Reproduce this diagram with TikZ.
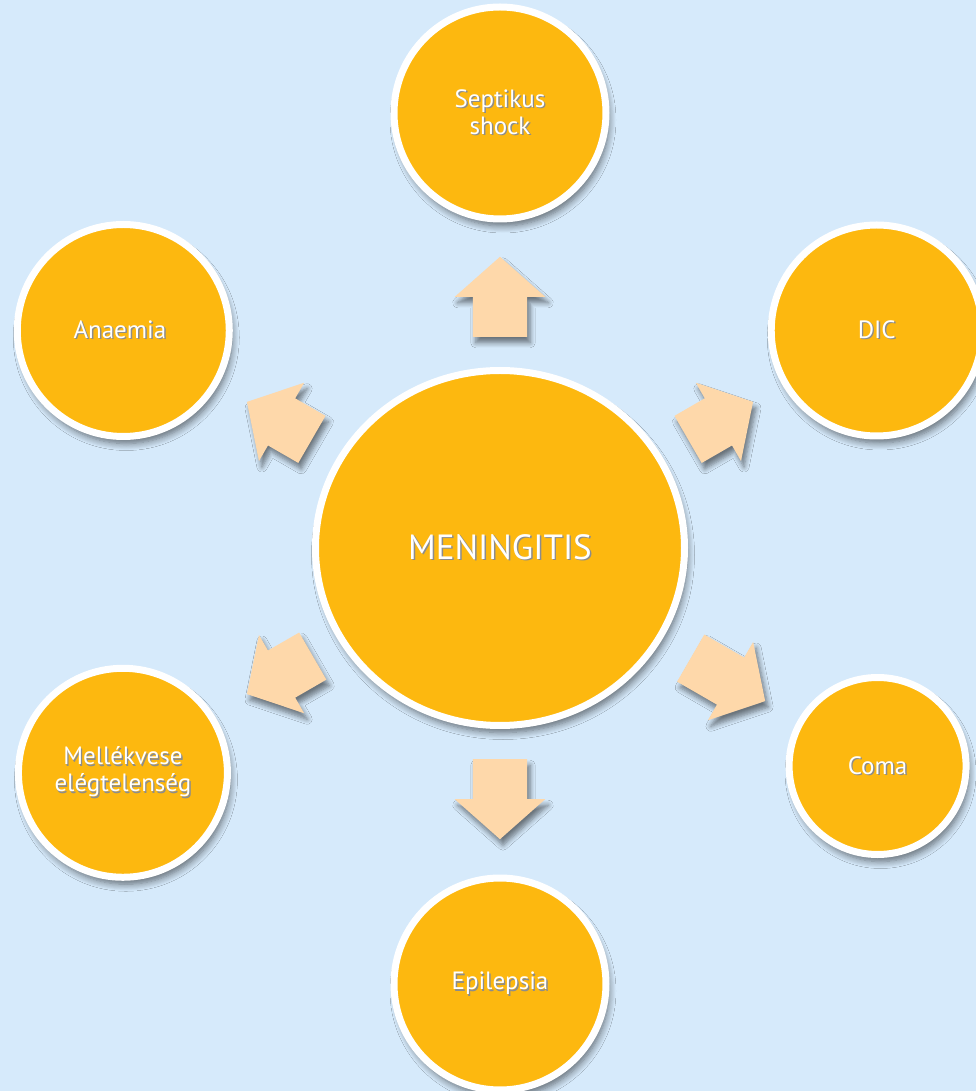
\documentclass[tikz,border=0pt]{standalone}
\usepackage{fontspec}
\setmainfont{PT Sans}
\usetikzlibrary{shapes,shapes.geometric,shapes.arrows,shadows,shadows.blur}
\definecolor{bgBlue}{RGB}{214,234,251}
\definecolor{discOrange}{RGB}{253,184,15}
\definecolor{arrowPeach}{RGB}{254,216,170}

% white text with a small grey shadow
\newcommand{\shtxt}[1]{\makebox[0pt][l]{\hspace{1.4pt}\raisebox{-1.4pt}{\color{black!45}#1}}#1}

\tikzset{
  disc/.style={circle, fill=discOrange, draw=white, line width=7pt, text=white,
    align=center, inner sep=0pt, font=\fontsize{25}{27}\selectfont,
    blur shadow={shadow xshift=3pt, shadow yshift=-7pt, shadow blur radius=7pt,
      shadow blur steps=8, shadow opacity=55}},
  blockarrow/.style={single arrow, fill=arrowPeach, draw=none, inner xsep=0pt, inner ysep=27pt,
    single arrow head extend=18pt, single arrow tip angle=97, anchor=tail,
    blur shadow={shadow xshift=3pt, shadow yshift=-6pt, shadow blur radius=5pt,
      shadow blur steps=6, shadow opacity=50}}
}

\begin{document}
\begin{tikzpicture}[x=1pt,y=1pt]

% background
\fill[bgBlue] (-500,-543) rectangle (476,548);
\useasboundingbox (-500,-543) rectangle (476,548);

\def\outer{
90/435/212/sept/{\shtxt{Septikus}\\\shtxt{shock}},
30/435/211/dic/{\shtxt{DIC}},
330/436/177/coma/{\shtxt{Coma}},
270/436/212/epil/{\shtxt{Epilepsia}},
210.8/439/209/mell/{\shtxt{Mellékvese}\\\shtxt{elégtelenség}},
150/435/212/anae/{\shtxt{Anaemia}}
}
\def\arrows{90/211/80, 30/217/75, 330/220/86, 270/211/80, 210/216/76, 150/217/75}

% draw the arrows
\foreach \ang/\start/\len [count=\ni] in \arrows
  \node[blockarrow, minimum height=\len pt, rotate=\ang] (arr\ni) at (\ang:\start) {};

% draw the central disc
\node[disc, ellipse, minimum width=369pt, minimum height=355pt, font=\fontsize{35}{38}\selectfont] (mening) at (0,0) {\shtxt{MENINGITIS}};

% draw the outer discs
\foreach \ang/\dist/\size/\nm/\txt in \outer
  \node[disc, minimum size=\size pt] (\nm) at (\ang:\dist) {\txt};

\end{tikzpicture}
\end{document}
